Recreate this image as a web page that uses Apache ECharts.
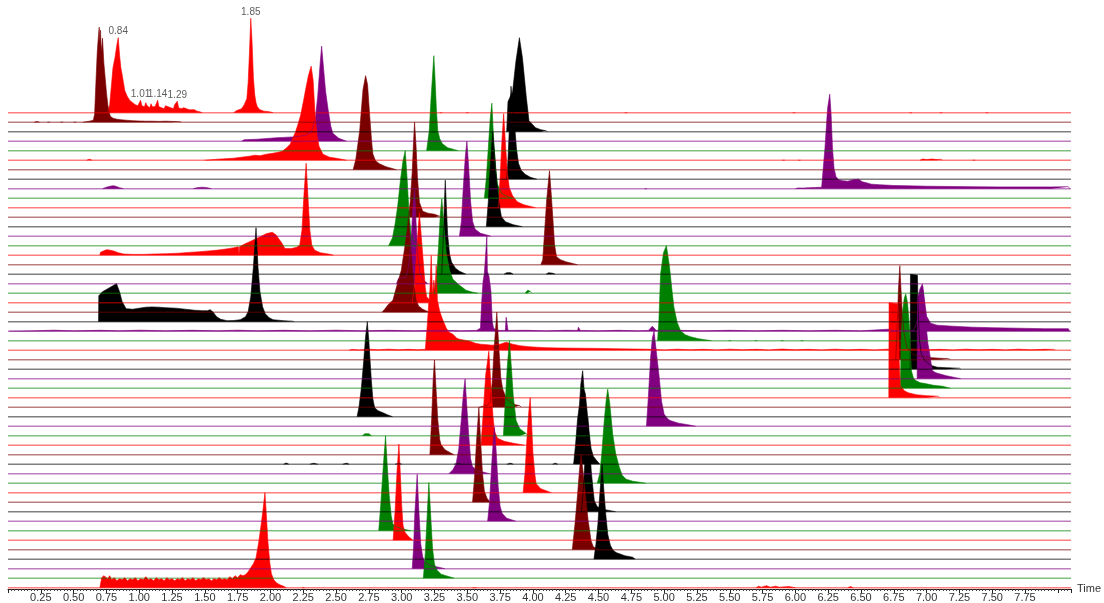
<!DOCTYPE html>
<html>
<head>
<meta charset="utf-8">
<script src="https://cdn.jsdelivr.net/npm/echarts@6/dist/echarts.min.js"></script>
<style>
html,body{margin:0;padding:0;background:#fff;}
#chart{width:1104px;height:603px;}
</style>
</head>
<body>
<div id="chart"></div>
<script>
// Stacked MRM chromatograms: one trace per transition, [time (min), relative intensity].
// Trace order is top (tr00) to bottom (tr50); channel colours cycle every five traces.

const tr00 = [[0.76,0],[0.775,8],[0.79,30],[0.80,45],[0.815,55],[0.83,68],[0.84,75],[0.85,58],[0.86,45],[0.87,38],[0.88,30],[0.89,22],[0.90,24],[0.91,16],[0.92,18],[0.93,12],[0.94,14],[0.95,10],[0.96,11],[0.97,8],[0.98,10],[0.99,7],[1.00,9],[1.01,12.5],[1.02,7],[1.03,9],[1.04,6],[1.05,10],[1.06,7],[1.07,8],[1.08,5],[1.09,9],[1.10,6],[1.11,8],[1.12,6],[1.13,9],[1.14,12.5],[1.15,6],[1.16,8],[1.17,5],[1.18,6],[1.19,4],[1.20,7],[1.21,5],[1.22,6],[1.23,4],[1.24,5],[1.25,7],[1.26,4],[1.27,8],[1.28,6],[1.29,11.5],[1.30,5],[1.31,7],[1.32,4],[1.33,6],[1.34,5],[1.35,7],[1.36,4],[1.37,5],[1.38,3],[1.39,4],[1.40,3],[1.41,2],[1.42,3],[1.44,1.5],[1.46,1],[1.48,0],
  [1.72,0],[1.74,2],[1.76,3],[1.78,4],[1.79,6],[1.80,8],[1.81,10],[1.82,14],[1.83,30],[1.84,60],[1.85,94.5],[1.86,70],[1.87,35],[1.88,18],[1.89,10],[1.90,6],[1.92,3],[1.95,1.5],[1.99,1],[2.02,0],
  [3.29,0],[3.30,1],[3.31,0],[3.49,0],[3.50,1],[3.51,0],[4.70,0],[4.71,1],[4.72,0],[5.98,0],[5.99,1.2],[6.00,0],[6.87,0],[6.88,1],[6.89,0],[7.10,0],[7.11,1.2],[7.12,0],[7.45,0],[7.46,1],[7.47,0]];
const tr01 = [[0.20,0],[0.22,0.8],[0.24,0],[0.30,0],[0.31,0.6],[0.32,0],[0.40,0],[0.41,0.8],[0.42,0],[0.50,0],[0.51,0.7],[0.52,0],[0.57,0],[0.58,0.8],[0.62,1],[0.65,2],[0.66,8],[0.67,40],[0.68,70],[0.69,88],[0.695,95],[0.70,80],[0.705,92],[0.71,70],[0.72,84],[0.73,60],[0.74,45],[0.75,30],[0.76,18],[0.77,10],[0.78,6],[0.80,4],[0.83,3],[0.86,2.5],[0.90,2],[0.95,1.5],[1.00,1.2],[1.05,1],[1.10,1],[1.15,0.8],[1.20,1],[1.25,0.8],[1.31,0.6],[1.32,0]];
const tr02 = [[3.80,0],[3.81,30],[3.83,36],[3.845,40],[3.87,70],[3.897,94],[3.92,74],[3.95,34],[3.97,11],[4.02,4],[4.06,2],[4.10,1],[4.11,0]];
const tr03 = [[1.78,0],[1.80,1.5],[1.90,2],[2.00,3],[2.05,3.5],[2.10,3.8],[2.17,4.3],[2.22,5],[2.27,6],[2.31,9],[2.34,20],[2.36,45],[2.38,80],[2.39,95],[2.40,80],[2.42,50],[2.44,31],[2.46,15],[2.475,8],[2.52,3],[2.58,0]];
const tr04 = [[3.19,0],[3.21,20],[3.225,55],[3.245,95],[3.255,70],[3.265,40],[3.275,20],[3.29,12],[3.31,7],[3.35,3],[3.43,0]];
const tr05 = [[0.60,0],[0.62,1],[0.64,0],[1.50,0],[1.60,1],[1.66,1.5],[1.72,2],[1.78,3],[1.84,4],[1.88,5],[1.92,4.5],[1.97,6],[2.02,7],[2.06,8],[2.09,9],[2.12,12],[2.15,16],[2.17,22],[2.19,28],[2.21,36],[2.23,45],[2.25,58],[2.27,72],[2.29,85],[2.31,94],[2.325,80],[2.34,45],[2.355,25],[2.37,14],[2.40,6],[2.45,3],[2.50,2],[2.58,0],
  [5.90,0],[5.91,1],[5.92,0],[6.02,0],[6.03,1],[6.04,0],[6.95,0],[6.97,1.2],[7.00,0.6],[7.04,1.2],[7.08,0.6],[7.11,1],[7.12,0],[7.35,0],[7.36,1],[7.37,0]];
const tr06 = [[2.63,0],[2.65,10],[2.68,39],[2.705,80],[2.725,94],[2.74,85],[2.755,56],[2.77,30],[2.78,16],[2.80,9],[2.83,6],[2.88,3],[2.96,0]];
const tr07 = [[3.80,0],[3.81,20],[3.82,50],[3.833,93],[3.845,75],[3.86,55],[3.875,30],[3.89,16],[3.91,9],[3.94,5],[3.98,2],[4.03,0]];
const tr08 = [[0.72,0],[0.75,1.5],[0.78,2.5],[0.80,3],[0.82,2.5],[0.85,1],[0.88,0],[1.41,0],[1.44,1],[1.48,1.5],[1.52,1],[1.55,0],[4.85,0],[4.86,1],[4.87,0],
  [6.00,0],[6.02,0.8],[6.06,0.6],[6.10,1],[6.15,1.2],[6.20,1.5],[6.215,3],[6.225,40],[6.245,80],[6.262,94.5],[6.272,75],[6.283,40],[6.295,20],[6.31,12],[6.33,9],[6.36,8],[6.40,7.5],[6.44,9],[6.48,9.5],[6.51,7],[6.54,6],[6.58,4.5],[6.64,4],[6.75,3.2],[6.84,3],[7.00,2.5],[7.20,2.2],[7.35,2],[7.55,1.8],[7.75,1.8],[7.95,1.8],[8.08,2],[8.09,0]];
const tr09 = [[3.63,0],[3.645,20],[3.66,50],[3.675,80],[3.687,95],[3.70,60],[3.715,30],[3.73,14],[3.76,5],[3.80,2],[3.84,0]];
const tr10 = [[3.735,0],[3.75,30],[3.765,70],[3.777,94],[3.79,65],[3.805,35],[3.82,20],[3.845,12],[3.88,6],[3.93,3],[4.02,0]];
const tr11 = [[3.05,0],[3.065,15],[3.08,45],[3.09,75],[3.098,95],[3.11,70],[3.12,40],[3.135,15],[3.16,6],[3.20,4],[3.25,3],[3.29,1],[3.30,0]];
const tr12 = [[3.645,0],[3.66,25],[3.675,60],[3.694,95],[3.71,70],[3.725,45],[3.74,25],[3.76,10],[3.79,5],[3.85,2],[3.92,0]];
const tr13 = [[3.44,0],[3.455,15],[3.47,50],[3.485,80],[3.497,95],[3.51,70],[3.525,35],[3.54,15],[3.56,7],[3.60,3],[3.68,0]];
const tr14 = [[2.90,0],[2.93,8],[2.95,22],[2.97,40],[2.99,65],[3.01,85],[3.027,95],[3.04,70],[3.055,35],[3.07,12],[3.09,5],[3.12,2],[3.15,0]];
const tr15 = [[0.70,0],[0.705,3],[0.72,4.5],[0.75,5.5],[0.78,5],[0.81,4],[0.84,2.5],[0.88,1.2],[0.95,0.8],[1.03,0.8],[1.12,1.2],[1.21,1.5],[1.30,2],[1.38,2.8],[1.46,3.5],[1.53,4.3],[1.59,5],[1.65,6],[1.715,7.3],[1.755,8.5],[1.76,0.5],[1.765,8.5],[1.80,11],[1.85,14],[1.893,16.6],[1.93,19],[1.97,21.6],[2.015,22.9],[2.045,20],[2.065,16],[2.083,13],[2.11,6.6],[2.16,6.6],[2.20,8],[2.223,10],[2.24,25],[2.255,60],[2.272,92],[2.285,60],[2.30,25],[2.315,10],[2.337,5],[2.38,2.5],[2.45,1],[2.48,0]];
const tr16 = [[4.06,0],[4.075,5],[4.09,35],[4.105,65],[4.126,94],[4.14,70],[4.155,40],[4.165,20],[4.18,8],[4.21,5],[4.25,3],[4.34,0]];
const tr17 = [[3.305,0],[3.315,30],[3.325,70],[3.332,94],[3.34,70],[3.35,40],[3.365,20],[3.38,12],[3.41,6],[3.44,3],[3.49,0],[3.78,0],[3.80,1.5],[3.83,1.5],[3.85,0],[4.10,0],[4.12,1.5],[4.15,1],[4.17,0]];
const tr18 = [[2.96,0],[2.975,5],[2.99,7],[3.01,6],[3.03,6],[3.05,15],[3.07,40],[3.085,75],[3.098,94],[3.11,60],[3.125,25],[3.14,10],[3.16,4],[3.20,0]];
const tr19 = [[3.25,0],[3.265,15],[3.28,45],[3.295,80],[3.306,94.5],[3.32,70],[3.34,40],[3.365,23],[3.39,14],[3.44,8],[3.49,3],[3.54,1],[3.58,0],[3.94,0],[3.96,3],[3.98,2],[3.99,0]];
const tr20 = [[3.08,0],[3.10,20],[3.115,55],[3.135,90],[3.15,65],[3.165,40],[3.18,15],[3.19,6],[3.21,3],[3.25,0]];
const tr21 = [[2.85,0],[2.87,3],[2.90,8],[2.933,12],[2.96,25],[2.997,42],[3.02,62],[3.035,75],[3.052,94],[3.065,70],[3.08,45],[3.095,25],[3.11,12],[3.13,6],[3.16,3],[3.21,0]];
const tr22 = [[0.69,0],[0.692,26],[0.72,30],[0.76,33],[0.80,36],[0.827,38],[0.85,30],[0.87,20],[0.90,13],[0.95,12.5],[1.00,13.5],[1.05,14.5],[1.10,14.8],[1.15,14.5],[1.20,14],[1.28,13.5],[1.35,12.5],[1.42,11.5],[1.48,11],[1.52,11],[1.54,12],[1.56,10],[1.59,5],[1.62,2.5],[1.67,1],[1.72,1.2],[1.77,2],[1.81,5],[1.83,10],[1.85,25],[1.87,55],[1.89,94],[1.905,55],[1.92,30],[1.94,15],[1.96,8],[1.99,4],[2.02,2],[2.10,1],[2.17,0.5],[2.18,0]];
const tr23 = [[0.01,0],[0.02,0.9],[0.20,0.4],[0.35,1.0],[0.50,0.4],[0.70,0.9],[0.85,0.4],[1.00,1.0],[1.20,0.4],[1.40,0.9],[1.60,0.4],[1.75,1.0],[1.90,0.4],[2.10,0.9],[2.30,0.4],[2.50,1.0],[2.70,0.4],[2.90,0.9],[3.10,0.4],[3.30,1.0],[3.45,0.4],[3.57,0.8],
  [3.60,3],[3.61,30],[3.62,50],[3.63,58],[3.645,60],[3.649,95],[3.653,60],[3.665,55],[3.68,40],[3.69,10],[3.70,3],[3.73,0.8],
  [3.79,0.8],[3.796,14],[3.81,0.8],[3.95,0.9],[4.10,0.4],[4.25,0.9],[4.34,0.8],[4.347,4],[4.36,0.8],[4.50,0.4],[4.65,0.9],[4.80,0.4],[4.88,0.8],[4.91,5],[4.94,0.8],[5.10,0.9],[5.30,0.4],[5.50,0.9],[5.70,0.4],[5.90,0.9],[6.10,0.4],[6.30,0.9],[6.50,0.4],[6.71,2],[6.75,0.6],[6.90,0.8],
  [6.93,10],[6.955,35],[6.97,45],[6.985,30],[7.00,15],[7.03,8],[7.08,6],[7.20,5],[7.35,4],[7.50,3.5],[7.70,3],[7.90,2.5],[8.08,2.5],[8.09,0]];
const tr24 = [[4.95,0],[4.96,20],[4.973,67],[4.995,88],[5.017,95],[5.04,75],[5.06,50],[5.075,33],[5.10,18],[5.125,10],[5.16,6],[5.20,4],[5.26,2],[5.31,1],[5.36,0],[5.49,0],[5.50,1],[5.51,0],[5.69,0],[5.70,1],[5.71,0],[5.89,0],[5.90,1],[5.91,0],[6.04,0],[6.05,1],[6.06,0]];
const tr25 = [[2.60,0],[2.62,0.8],[2.68,0.3],[2.75,1.0],[2.82,0.4],[2.90,1.0],[2.98,0.4],[3.05,0.9],[3.12,0.4],[3.18,0.8],
  [3.188,2],[3.195,25],[3.205,45],[3.215,60],[3.225,94.7],[3.235,55],[3.245,70],[3.255,60],[3.263,84.7],[3.272,50],[3.288,40],[3.30,35],[3.314,30],[3.34,22],[3.36,18],[3.39,16],[3.42,12],[3.44,11],[3.48,10],[3.52,9],[3.56,7],[3.60,6],[3.65,5.5],[3.69,5],[3.75,6],[3.796,8],[3.82,7],[3.846,6],[3.90,4.5],[3.97,3.5],[4.03,3],[4.10,2.5],[4.20,2.2],[4.35,2],[4.50,1.8],[4.61,1.5],[4.76,1.2],
  [4.90,0.9],[5.00,0.3],[5.10,1.0],[5.20,0.4],[5.30,0.9],[5.40,0.3],[5.50,1.0],[5.60,0.4],[5.70,0.9],[5.80,0.3],[5.90,1.1],[6.00,0.4],[6.10,0.9],[6.20,0.3],[6.30,1.0],[6.40,0.4],[6.50,0.9],[6.60,0.3],[6.70,1.0],[6.80,0.4],[6.90,1.1],[7.00,0.4],[7.10,0.9],[7.20,0.3],[7.30,1.0],[7.40,0.4],[7.50,0.9],[7.60,0.3],[7.70,1.0],[7.80,0.4],[7.90,0.9],[7.97,0.8],[7.98,0]];
const tr26 = [[6.765,0],[6.775,30],[6.785,70],[6.796,94],[6.805,70],[6.815,45],[6.83,25],[6.85,12],[6.90,5],[6.98,3],[7.04,2],[7.10,1.5],[7.17,1],[7.18,0]];
const tr27 = [[6.875,0],[6.877,95],[6.93,94],[6.935,60],[6.945,30],[6.96,15],[6.99,8],[7.03,4],[7.08,2],[7.15,1.5],[7.25,1],[7.26,0]];
const tr28 = [[6.928,0],[6.93,80],[6.95,90],[6.968,94.8],[6.98,80],[6.995,55],[7.01,35],[7.02,28],[7.035,15],[7.045,8],[7.07,6],[7.095,5],[7.15,3],[7.26,0]];
const tr29 = [[6.80,0],[6.805,40],[6.815,75],[6.83,90],[6.841,94.3],[6.855,85],[6.87,60],[6.878,30],[6.885,17],[6.90,10],[6.917,7.6],[6.95,5.5],[6.99,4.6],[7.05,3],[7.12,2],[7.18,0]];
const tr30 = [[6.712,0],[6.714,95],[6.78,94],[6.79,40],[6.80,12],[6.83,7],[6.86,5],[6.92,3],[7.00,2],[7.09,1.5],[7.10,0]];
const tr31 = [[3.59,0],[3.60,2],[3.65,2],[3.675,5],[3.69,25],[3.705,60],[3.725,95],[3.74,60],[3.755,30],[3.77,18],[3.80,8],[3.85,3],[3.90,1.5],[3.91,0]];
const tr32 = [[2.66,0],[2.675,10],[2.693,29],[2.71,55],[2.725,80],[2.738,95],[2.75,75],[2.769,36],[2.78,18],[2.794,9],[2.82,6],[2.857,4],[2.89,2],[2.93,0]];
const tr33 = [[4.865,0],[4.88,30],[4.897,69],[4.91,88],[4.923,95],[4.94,75],[4.96,52],[4.98,25],[5.00,12],[5.03,7],[5.05,5.5],[5.11,3],[5.18,1.5],[5.24,0]];
const tr34 = [[2.70,0],[2.72,2],[2.75,2],[2.77,0],[3.775,0],[3.79,35],[3.805,70],[3.821,95],[3.835,70],[3.85,40],[3.872,15],[3.90,7],[3.95,2],[3.96,0]];
const tr35 = [[3.605,0],[3.62,30],[3.64,70],[3.664,94],[3.68,60],[3.695,30],[3.707,14],[3.73,7],[3.78,4],[3.85,2],[3.935,0]];
const tr36 = [[3.215,0],[3.228,35],[3.24,75],[3.25,94.7],[3.26,70],[3.275,35],[3.29,15],[3.30,10],[3.33,5],[3.37,2],[3.40,0]];
const tr37 = [[2.10,0],[2.12,1.2],[2.14,0],[2.30,0],[2.33,1],[2.36,0],[2.55,0],[2.58,1],[2.60,0],[2.95,0],[2.98,1],[3.00,0],[3.40,0],[3.43,1],[3.45,0],[3.80,0],[3.83,1],[3.85,0],[4.15,0],[4.17,1],[4.19,0],
  [4.31,0],[4.325,20],[4.34,45],[4.355,60],[4.365,80],[4.379,93.5],[4.39,75],[4.40,70],[4.415,50],[4.43,30],[4.443,16],[4.46,8],[4.49,3],[4.51,0]];
const tr38 = [[3.36,0],[3.39,4],[3.415,10],[3.435,25],[3.455,55],[3.47,80],[3.483,94.6],[3.495,70],[3.51,40],[3.525,15],[3.54,7],[3.58,3],[3.67,0]];
const tr39 = [[4.49,0],[4.51,10],[4.525,30],[4.545,65],[4.56,85],[4.57,94],[4.585,80],[4.608,49],[4.63,30],[4.659,15.7],[4.68,8],[4.71,4],[4.76,2],[4.86,0]];
const tr40 = [[3.925,0],[3.94,20],[3.955,55],[3.968,80],[3.979,95],[3.99,70],[4.00,40],[4.015,18],[4.025,9],[4.06,4],[4.10,2],[4.14,0]];
const tr41 = [[3.54,0],[3.555,25],[3.57,60],[3.588,95],[3.60,65],[3.615,30],[3.63,11],[3.65,4],[3.675,0]];
const tr42 = [[4.37,0],[4.385,25],[4.40,60],[4.418,94],[4.43,70],[4.445,40],[4.46,20],[4.468,11],[4.49,5],[4.55,2],[4.63,0]];
const tr43 = [[3.655,0],[3.67,20],[3.685,55],[3.70,85],[3.707,93.6],[3.72,70],[3.735,35],[3.75,15],[3.765,8],[3.80,3],[3.87,0]];
const tr44 = [[2.825,0],[2.84,25],[2.86,65],[2.877,94.8],[2.89,65],[2.905,35],[2.92,15],[2.933,6.5],[2.96,4],[3.00,2],[3.07,0]];
const tr45 = [[2.935,0],[2.95,30],[2.965,70],[2.979,96],[2.99,65],[3.00,35],[3.01,15],[3.025,8],[3.05,4],[3.085,0]];
const tr46 = [[4.30,0],[4.32,25],[4.34,55],[4.355,80],[4.367,95],[4.38,80],[4.40,55],[4.42,30],[4.443,9],[4.46,3],[4.50,0]];
const tr47 = [[4.465,0],[4.48,15],[4.495,35],[4.506,58],[4.527,95],[4.54,70],[4.555,45],[4.57,25],[4.59,14],[4.61,9],[4.634,6.6],[4.70,3.5],[4.76,2],[4.78,0]];
const tr48 = [[3.08,0],[3.09,20],[3.10,55],[3.118,94.4],[3.13,60],[3.145,25],[3.16,12],[3.18,6],[3.22,3],[3.28,1.5],[3.33,0]];
const tr49 = [[3.165,0],[3.18,25],[3.195,65],[3.207,95.5],[3.22,65],[3.235,30],[3.25,14],[3.27,8],[3.30,4],[3.35,2],[3.40,0]];
const tr50 = [[0.70,0],[0.714,10],[0.73,12],[0.745,13],[0.76,9],[0.775,12],[0.79,8],[0.81,10],[0.83,7],[0.85,9],[0.87,8],[0.89,10],[0.91,7],[0.93,9],[0.95,8],[0.97,10],[0.99,7],[1.01,9],[1.03,8],[1.05,11],[1.07,8],[1.09,9],[1.11,7],[1.13,10],[1.15,8],[1.17,9],[1.19,7],[1.21,10],[1.23,8],[1.25,9],[1.27,7],[1.29,9],[1.31,8],[1.33,10],[1.35,7],[1.37,9],[1.39,8],[1.41,10],[1.43,7],[1.45,9],[1.47,8],[1.49,10],[1.51,8],[1.53,9],[1.55,7],[1.57,9],[1.59,8],[1.61,10],[1.63,8],[1.65,9],[1.67,8],[1.69,11],[1.71,9],[1.73,12],[1.75,10],[1.77,13],[1.79,12],[1.81,13],[1.83,16],[1.85,20],[1.87,24],[1.89,30],[1.91,45],[1.93,64],[1.945,80],[1.958,95],[1.97,70],[1.98,47],[1.995,25],[2.007,14],[2.025,8],[2.045,5],[2.07,3],[2.10,1.5],[2.12,0],
  [2.24,0],[2.25,2],[2.26,0],[3.54,0],[3.555,2],[3.57,0],[5.70,0],[5.72,1.5],[5.74,0.5],[5.78,2],[5.81,0.5],[5.85,1.5],[5.88,0.5],[5.95,1.2],[6.00,0],[6.40,0],[6.42,1.2],[6.44,0]];

const traces = [tr00,tr01,tr02,tr03,tr04,tr05,tr06,tr07,tr08,tr09,tr10,tr11,tr12,tr13,tr14,tr15,tr16,tr17,tr18,tr19,
  tr20,tr21,tr22,tr23,tr24,tr25,tr26,tr27,tr28,tr29,tr30,tr31,tr32,tr33,tr34,tr35,tr36,tr37,tr38,tr39,
  tr40,tr41,tr42,tr43,tr44,tr45,tr46,tr47,tr48,tr49,tr50];

// Peak retention times annotated on the top trace
const labelTrace = 0;
const peakLabelTimes = [0.84, 1.01, 1.14, 1.29, 1.85];

// Axis
const timeMin = 0, timeMax = 8.1, tickStep = 0.25;
const axisTitle = 'Time';

// Channel colours (peak fill, baseline)
const fillColors = ['#ff0000', '#7a0000', '#000000', '#800080', '#008000'];
const lineColors = ['rgba(255,0,0,0.5)', 'rgba(122,0,0,0.5)', 'rgba(0,0,0,0.5)', 'rgba(128,0,128,0.5)', 'rgba(0,128,0,0.5)'];

const TRACE_GAP = 9.5;   // vertical spacing between stacked traces (intensity units)
const BOTTOM_PAD = 1.3;
const nTraces = traces.length;
const baseOf = i => BOTTOM_PAD + (nTraces - 1 - i) * TRACE_GAP;

// Split a trace into its signal segments (a run of two zero readings ends a segment)
function segmentsOf(pts) {
  const sorted = pts.slice().sort((a, b) => a[0] - b[0]);
  const out = [];
  let cur = [];
  sorted.forEach((p, k) => {
    cur.push(p);
    const next = sorted[k + 1];
    if (p[1] === 0 && next && next[1] === 0) {
      if (cur.length > 1) out.push(cur);
      cur = [];
    }
  });
  if (cur.length > 1) out.push(cur);
  return out;
}

const series = [];
traces.forEach((pts, i) => {
  const c = i % 5;
  const base = baseOf(i);
  // baseline across the full time range
  series.push({
    type: 'line',
    data: [[timeMin, base], [timeMax, base]],
    showSymbol: false, symbol: 'none', silent: true,
    lineStyle: { color: lineColors[c], width: 1.6 },
    z: 2
  });
  // filled signal, segments separated by gaps
  const data = [];
  segmentsOf(pts).forEach((seg, k) => {
    if (k > 0) data.push([seg[0][0], '-']);
    seg.forEach(p => data.push([p[0], base + p[1]]));
  });
  series.push({
    type: 'line',
    data: data,
    connectNulls: false,
    showSymbol: false, symbol: 'none', silent: true,
    lineStyle: { color: fillColors[c], width: 0.6 },
    areaStyle: { color: fillColors[c], opacity: 1, origin: base },
    z: 2
  });
});

const lblTrace = traces[labelTrace];
series.push({
  type: 'scatter',
  silent: true,
  symbolSize: 0,
  z: 5,
  data: peakLabelTimes.map(t => {
    const hit = lblTrace.find(p => Math.abs(p[0] - t) < 1e-9);
    return [t, baseOf(labelTrace) + (hit ? hit[1] : 0)];
  }),
  label: {
    show: true,
    position: 'top',
    distance: 1,
    formatter: p => p.value[0].toFixed(2),
    fontFamily: 'Liberation Sans Narrow, Liberation Sans, Arial, sans-serif',
    fontSize: 10,
    color: '#333'
  }
});

const chart = echarts.init(document.getElementById('chart'), null, { renderer: 'canvas' });
chart.setOption({
  animation: false,
  backgroundColor: '#ffffff',
  grid: { left: 8, right: 32, top: 0, bottom: 14, containLabel: false },
  xAxis: {
    type: 'value',
    min: timeMin,
    max: timeMax,
    interval: tickStep,
    name: axisTitle,
    nameLocation: 'end',
    nameGap: 6,
    nameTextStyle: { fontFamily: 'Liberation Sans, Arial, sans-serif', fontSize: 11, color: '#333' },
    axisLine: { show: true, lineStyle: { color: '#222', width: 1 } },
    axisTick: { show: true, length: 4, lineStyle: { color: '#222' } },
    minorTick: { show: true, splitNumber: 10, length: 2, lineStyle: { color: '#444' } },
    axisLabel: {
      margin: 3,
      fontFamily: 'Liberation Sans, Arial, sans-serif',
      fontSize: 11,
      color: '#333',
      formatter: v => (v > 0.2 && v < 7.8) ? v.toFixed(2) : ''
    },
    splitLine: { show: false }
  },
  yAxis: {
    type: 'value',
    min: 0,
    max: 589,
    show: false,
    splitLine: { show: false }
  },
  series: series
});
</script>
</body>
</html>
